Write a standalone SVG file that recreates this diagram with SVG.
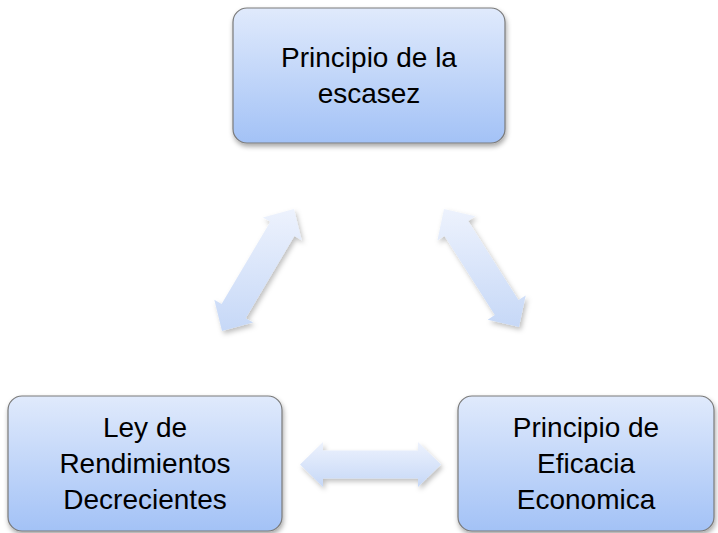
<svg xmlns="http://www.w3.org/2000/svg" width="718" height="533" viewBox="0 0 718 533">
  <defs>
    <linearGradient id="boxGrad" x1="0" y1="0" x2="0" y2="1">
      <stop offset="0" stop-color="#e0eafc"/>
      <stop offset="1" stop-color="#a3c2f6"/>
    </linearGradient>
    <linearGradient id="arrowGrad" x1="0" y1="0" x2="0" y2="1">
      <stop offset="0" stop-color="#edf2fd"/>
      <stop offset="1" stop-color="#c6d8f7"/>
    </linearGradient>
    <filter id="shadow" x="-20%" y="-20%" width="140%" height="150%">
      <feDropShadow dx="1" dy="3" stdDeviation="2.5" flood-color="#000" flood-opacity="0.35"/>
    </filter>
    <filter id="ashadow" x="-20%" y="-20%" width="140%" height="140%">
      <feDropShadow dx="2" dy="3" stdDeviation="2.5" flood-color="#000" flood-opacity="0.25"/>
    </filter>
  </defs>
  <style>
    .box { fill: url(#boxGrad); stroke: #7a7a7a; stroke-width: 1.2; filter: url(#shadow); }
    .arrow { fill: url(#arrowGrad); stroke: none; filter: url(#ashadow); }
    .label { font-family: "Liberation Sans", Arial, sans-serif; font-size: 28px; fill: #000; text-anchor: middle; }
  </style>
  <rect width="718" height="533" fill="#ffffff"/>
  <g id="connectors">
    <path class="arrow" d="M294,209 L301.7,240.2 L294.4,235.9 L245.7,318.3 L253.1,322.6 L222,331 L214.3,299.8 L221.6,304.1 L270.3,221.7 L262.9,217.4 Z"/>
    <path class="arrow" d="M444,209 L475.3,216.3 L468.2,220.9 L518.5,300.1 L525.7,295.5 L519,327 L487.7,319.7 L494.8,315.1 L444.5,235.9 L437.4,240.5 Z"/>
    <path class="arrow" d="M300,464.5 L323,442 L323,450.5 L418,450.5 L418,442 L441,464.5 L418,487 L418,478.5 L323,478.5 L323,487 Z"/>
  </g>
  <g id="node-escasez">
    <rect class="box" x="233" y="8" width="272" height="135" rx="14" ry="14"/>
    <text class="label" x="369" y="67">Principio de la</text>
    <text class="label" x="369" y="103">escasez</text>
  </g>
  <g id="node-rendimientos">
    <rect class="box" x="8" y="396" width="274" height="135" rx="14" ry="14"/>
    <text class="label" x="145" y="437">Ley de</text>
    <text class="label" x="145" y="473">Rendimientos</text>
    <text class="label" x="145" y="509">Decrecientes</text>
  </g>
  <g id="node-eficacia">
    <rect class="box" x="458" y="396" width="256" height="135" rx="14" ry="14"/>
    <text class="label" x="586" y="437">Principio de</text>
    <text class="label" x="586" y="473">Eficacia</text>
    <text class="label" x="586" y="509">Economica</text>
  </g>
</svg>
